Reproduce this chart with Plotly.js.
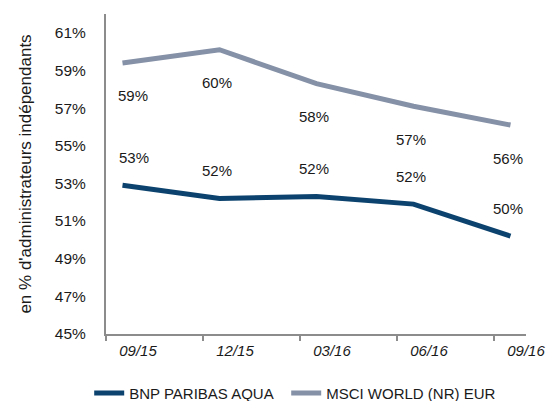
<!DOCTYPE html>
<html>
<head>
<meta charset="utf-8">
<script src="https://cdn.plot.ly/plotly-3.0.1.min.js"></script>
<style>
html,body{margin:0;padding:0;background:#fff;}
#chart{width:549px;height:401px;}
</style>
</head>
<body>
<div id="chart"></div>
<script>
var categories = ['09/15', '12/15', '03/16', '06/16', '09/16'];
var bnpName = 'BNP PARIBAS AQUA';
var bnpValues = [52.9, 52.2, 52.3, 51.9, 50.2];
var bnpLabels = ['53%', '52%', '52%', '52%', '50%'];
var msciName = 'MSCI WORLD (NR) EUR';
var msciValues = [59.4, 60.1, 58.3, 57.1, 56.1];
var msciLabels = ['59%', '60%', '58%', '57%', '56%'];
var yTickValues = [45, 47, 49, 51, 53, 55, 57, 59, 61];
var yTickLabels = ['45%', '47%', '49%', '51%', '53%', '55%', '57%', '59%', '61%'];

var idx = categories.map(function (c, i) { return i; });
var font = 'Liberation Sans, Arial, sans-serif';
var textColor = '#1a1a1a';
var bnpColor = '#0c436e';
var msciColor = '#8591a7';
var xRange = [-0.17, 4.16];

var traces = [
  {x: idx, y: bnpValues, name: bnpName, type: 'scatter', mode: 'lines',
   line: {color: bnpColor, width: 5}, legendwidth: 152},
  {x: idx, y: msciValues, name: msciName, type: 'scatter', mode: 'lines',
   line: {color: msciColor, width: 5}, legendwidth: 170}
];

var annotations = [];
idx.forEach(function (i) {
  annotations.push({x: i, y: bnpValues[i], text: bnpLabels[i], showarrow: false,
    yshift: 28, xshift: i === 0 ? 12 : -2, font: {family: font, size: 15, color: textColor}});
  annotations.push({x: i, y: msciValues[i], text: msciLabels[i], showarrow: false,
    yshift: -33, xshift: i === 0 ? 11 : -2, font: {family: font, size: 15, color: textColor}});
});

var layout = {
  width: 549, height: 401,
  margin: {l: 106, r: 23, t: 14, b: 67, autoexpand: false},
  paper_bgcolor: '#fff', plot_bgcolor: '#fff',
  font: {family: font, size: 15, color: textColor},
  showlegend: true,
  legend: {orientation: 'h', x: -0.04, xanchor: 'left', y: -0.185, yanchor: 'middle',
    font: {family: font, size: 15, color: textColor},
    itemwidth: 30, tracegroupgap: 0},
  xaxis: {
    range: xRange,
    tickmode: 'array',
    tickvals: idx.map(function (i) { return i - 0.17; }),
    ticktext: categories.map(function () { return ''; }),
    ticks: 'outside', ticklen: 5, tickwidth: 1.5, tickcolor: '#8c8c8c',
    showline: true, linecolor: '#8c8c8c', linewidth: 2,
    showgrid: false, zeroline: false, fixedrange: true
  },
  xaxis2: {
    overlaying: 'x', anchor: 'y', side: 'bottom',
    range: xRange,
    tickmode: 'array',
    tickvals: idx.map(function (i) { return i + 0.16; }),
    ticktext: categories,
    ticks: '', ticklabelstandoff: 6,
    tickfont: {family: font, size: 15, color: textColor, style: 'italic'},
    showline: false, showgrid: false, zeroline: false, fixedrange: true
  },
  yaxis: {
    range: [45, 62],
    tickmode: 'array',
    tickvals: yTickValues,
    ticktext: yTickLabels,
    ticks: '',
    ticklabelstandoff: 15,
    tickfont: {family: font, size: 15.5, color: textColor},
    showline: true, linecolor: '#8c8c8c', linewidth: 2,
    showgrid: false, zeroline: false, fixedrange: true,
    title: {text: "en % d'administrateurs indépendants", standoff: 19,
      font: {family: font, size: 17, color: textColor}}
  },
  annotations: annotations
};

// invisible carrier trace so xaxis2 is drawn
traces.push({x: idx, y: bnpValues, xaxis: 'x2', yaxis: 'y', type: 'scatter', mode: 'none',
  showlegend: false, hoverinfo: 'skip'});

Plotly.newPlot('chart', traces, layout, {displayModeBar: false, staticPlot: true});
</script>
</body>
</html>
